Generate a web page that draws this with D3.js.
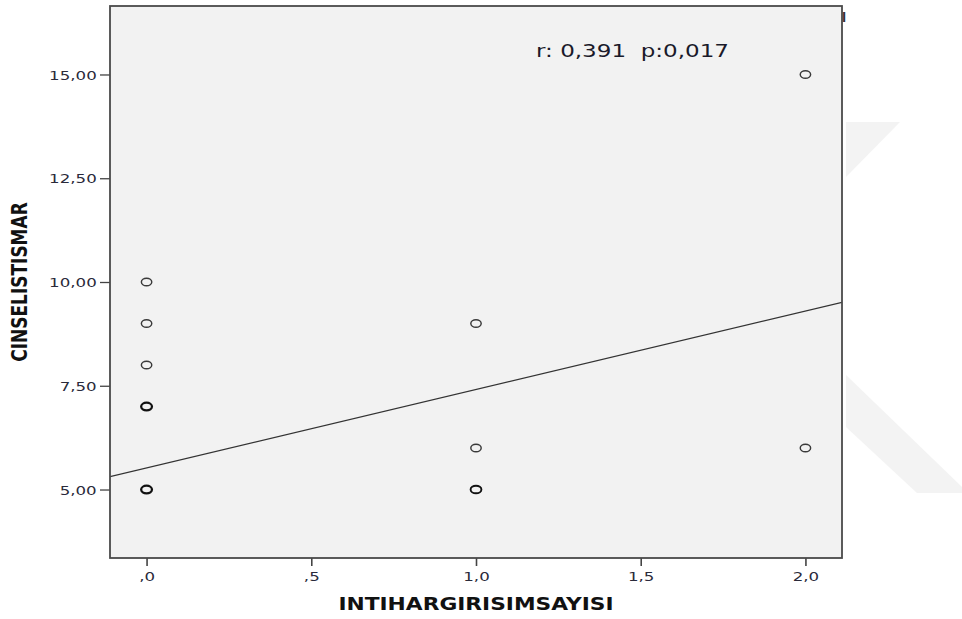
<!DOCTYPE html>
<html>
<head>
<meta charset="utf-8">
<script src="https://cdn.jsdelivr.net/npm/d3@7"></script>
<style>
  html, body { margin: 0; padding: 0; background: #ffffff; }
  svg { display: block; }
  text { font-family: "DejaVu Sans", Verdana, sans-serif; }
</style>
</head>
<body>
<svg id="chart" width="962" height="619"></svg>
<script>
// ---- data ----
const pointX = [0, 0, 0, 0, 0, 1, 1, 1, 2, 2];
const pointY = [5, 7, 8, 9, 10, 5, 6, 9, 6, 15];
const pointCount = [4, 3, 1, 1, 1, 2, 1, 1, 1, 1];   // overlapping cases (drawn bolder)
const xTicks = [0, 0.5, 1, 1.5, 2];
const yTicks = [5, 7.5, 10, 12.5, 15];
const fitIntercept = [5.52];
const fitSlope = [1.89];
const xTitle = "INTIHARGIRISIMSAYISI";
const yTitle = "CINSELISTISMAR";
const annotation = "r: 0,391  p:0,017";

// ---- layout ----
const W = 962, H = 619;
const plot = { left: 110, right: 842, top: 6, bottom: 558 };
const SX = 1.28;   // horizontal stretch of the original picture

const svg = d3.select("#chart");

// faint watermark outside the plot (decoration)
const wm = svg.append("g").attr("fill", "#f3f3f3");
wm.append("polygon").attr("points", "846,122 900,122 846,177");
wm.append("polygon").attr("points", "846,375 962,487 962,493 917,493 846,427");

const x = d3.scaleLinear().domain([-0.111, 2.111]).range([plot.left, plot.right]);
const y = d3.scaleLinear().domain([3.35, 16.65]).range([plot.bottom, plot.top]);

// plot background
svg.append("rect")
  .attr("x", plot.left).attr("y", plot.top)
  .attr("width", plot.right - plot.left).attr("height", plot.bottom - plot.top)
  .attr("fill", "#f2f2f2");

svg.append("clipPath").attr("id", "clip")
  .append("rect")
  .attr("x", plot.left).attr("y", plot.top)
  .attr("width", plot.right - plot.left).attr("height", plot.bottom - plot.top);

// axes
const fmtX = v => d3.format(".1f")(v).replace(/^0\./, ".").replace(".", ",");
const fmtY = v => d3.format(".2f")(v).replace(".", ",");

const gx = svg.append("g")
  .attr("transform", `translate(0,${plot.bottom})`)
  .call(d3.axisBottom(x).tickValues(xTicks).tickFormat(fmtX).tickSize(8).tickSizeOuter(0));
gx.select(".domain").remove();
gx.selectAll(".tick line").attr("stroke", "#444").attr("stroke-width", 1.6);
gx.selectAll(".tick text")
  .attr("y", 23).attr("dy", 0)
  .attr("transform", `scale(${SX},1)`)
  .attr("fill", "#2a2a3a").attr("font-size", 13);

const gy = svg.append("g")
  .attr("transform", `translate(${plot.left},0)`)
  .call(d3.axisLeft(y).tickValues(yTicks).tickFormat(fmtY).tickSize(10).tickSizeOuter(0));
gy.select(".domain").remove();
gy.selectAll(".tick line").attr("stroke", "#444").attr("stroke-width", 1.3);
gy.selectAll(".tick text")
  .attr("x", -13.3 / SX).attr("dy", "0.36em")
  .attr("transform", `scale(${SX},1)`)
  .attr("fill", "#2a2a3a").attr("font-size", 13);

// regression line
const xd = x.domain();
svg.append("line")
  .attr("clip-path", "url(#clip)")
  .attr("x1", x(xd[0])).attr("y1", y(fitIntercept[0] + fitSlope[0] * xd[0]))
  .attr("x2", x(xd[1])).attr("y2", y(fitIntercept[0] + fitSlope[0] * xd[1]))
  .attr("stroke", "#333").attr("stroke-width", 1.1);

// points
const pts = pointX.map((v, i) => ({ x: v, y: pointY[i], n: pointCount[i] }));
svg.append("g").selectAll("ellipse").data(pts).join("ellipse")
  .attr("cx", d => x(d.x)).attr("cy", d => y(d.y))
  .attr("rx", d => d.n > 1 ? 5.4 : 5.2).attr("ry", 3.8)
  .attr("fill", "none")
  .attr("stroke", d => d.n > 1 ? "#111" : "#3a3a3a")
  .attr("stroke-width", d => d.n > 2 ? 2.3 : (d.n > 1 ? 1.9 : 1.45));

// frame
svg.append("rect")
  .attr("x", plot.left).attr("y", plot.top)
  .attr("width", plot.right - plot.left).attr("height", plot.bottom - plot.top)
  .attr("fill", "none").attr("stroke", "#4a4a4a").attr("stroke-width", 1.8);

// annotation
svg.append("g").attr("transform", `translate(536,57) scale(${SX},1)`)
  .append("text")
  .attr("xml:space", "preserve").style("white-space", "pre")
  .attr("font-size", 18).attr("fill", "#1a1a2a")
  .text(annotation);

// clipped fragment at top right
svg.append("g").attr("transform", `translate(842,22) scale(0.8,1)`)
  .append("text").attr("font-size", 14).attr("font-weight", "bold").attr("fill", "#333")
  .text("I");

// axis titles
svg.append("g").attr("transform", `translate(${(plot.left + plot.right) / 2},610) scale(${SX},1)`)
  .append("text").attr("text-anchor", "middle")
  .attr("font-size", 17).attr("font-weight", "bold").attr("fill", "#111")
  .text(xTitle);

svg.append("g").attr("transform", `translate(27,${(plot.top + plot.bottom) / 2}) scale(${SX},1) rotate(-90)`)
  .append("text").attr("text-anchor", "middle")
  .attr("font-size", 17).attr("font-weight", "bold").attr("fill", "#111")
  .text(yTitle);
</script>
</body>
</html>
